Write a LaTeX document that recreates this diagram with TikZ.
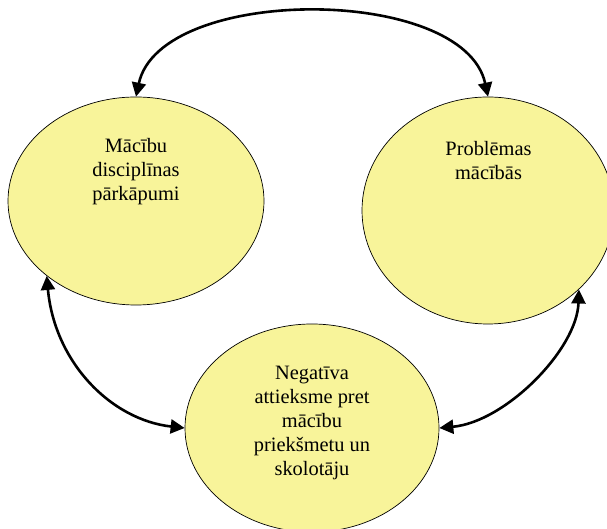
\documentclass[tikz,border=0pt]{standalone}
\usepackage{fontspec}
\setmainfont{Liberation Serif}
\usetikzlibrary{shapes.geometric,arrows.meta}
\definecolor{paleyellow}{RGB}{248,244,154}
\tikzset{
  bubble/.style={ellipse, draw=black, line width=0.7pt, fill=paleyellow,
                 inner sep=0pt},
  % multi-line captions: the base anchor sits on the last line
  caption/.style={align=center, inner sep=0pt, anchor=base,
                  font=\fontsize{20.4}{24}\selectfont},
  link/.style={line width=2.6pt, {Triangle[length=14pt,width=14pt]}-{Triangle[length=14pt,width=14pt]}}
}
\begin{document}
\begin{tikzpicture}[x=1pt,y=1pt]
  \useasboundingbox (0,0) rectangle (607,529);
  \clip (0,0) rectangle (607,529);

  % the three topics
  \node[bubble, minimum width=256pt, minimum height=208pt] (L) at (136,328) {};
  \node[bubble, minimum width=252pt, minimum height=227pt] (R) at (488,318.5) {};
  \node[bubble, minimum width=254pt, minimum height=208pt] (B) at (312,101) {};

  \node[caption] (Lt) at (136,328) {Mācību\\disciplīnas\\pārkāpumi};
  \node[caption] (Rt) at (488.5,349.5) {Problēmas\\mācībās};
  \node[caption] (Bt) at (312,53) {Negatīva\\attieksme pret\\mācību\\priekšmetu un\\skolotāju};

  % mutual influences
  \draw[link] (L.north) .. controls +(24,112) and +(-24,112) .. (R.north);
  \draw[link] (L.220) .. controls +(8,-87) and +(-73,8) .. (B.west);
  \draw[link] (B.east) .. controls +(66,6) and +(-2,-60) .. (R.-41.5);
\end{tikzpicture}
\end{document}
